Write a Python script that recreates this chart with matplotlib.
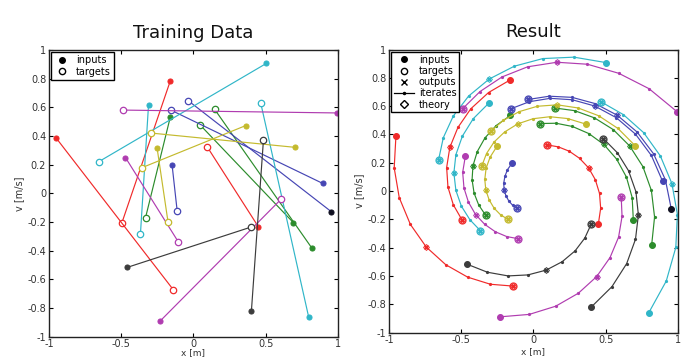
'''
training pairs and learned spiral iterates
two panels: training data and result
'''
import matplotlib.pyplot as plt
from matplotlib.lines import Line2D

# DATA -------------------------------------------------------------
inputs_x = [-0.160, -0.952, 0.449, -0.160, 0.818, 0.691, -0.148, 0.954, 0.893, 0.505,
            -0.311, 0.797, 0.993, -0.471, -0.229, 0.362, 0.703, -0.252, 0.401, -0.460]
inputs_v = [0.786, 0.388, -0.233, 0.534, -0.380, -0.204, 0.197, -0.128, 0.070, 0.907,
            0.619, -0.862, 0.561, 0.250, -0.889, 0.473, 0.321, 0.317, -0.819, -0.517]
targets_x = [-0.495, -0.140, 0.094, -0.332, 0.146, 0.046, -0.113, -0.037, -0.157, -0.657,
             -0.367, 0.465, -0.491, -0.106, 0.607, -0.357, -0.297, -0.176, 0.484, 0.399]
targets_v = [-0.204, -0.672, 0.326, -0.170, 0.587, 0.477, -0.122, 0.647, 0.581, 0.220,
             -0.281, 0.632, 0.581, -0.337, -0.040, 0.179, 0.421, -0.201, 0.370, -0.235]

# intermediate iterates (7 per trajectory, between input and target)
iterates_x = [
    [-0.311, -0.434, -0.523, -0.579, -0.601, -0.592, -0.555],
    [-0.964, -0.929, -0.852, -0.742, -0.607, -0.455, -0.298],
    [0.465, 0.457, 0.428, 0.381, 0.319, 0.248, 0.172],
    [-0.259, -0.336, -0.389, -0.419, -0.425, -0.411, -0.379],
    [0.838, 0.816, 0.757, 0.666, 0.552, 0.422, 0.284],
    [0.683, 0.643, 0.575, 0.487, 0.383, 0.270, 0.156],
    [-0.180, -0.198, -0.206, -0.203, -0.191, -0.171, -0.145],
    [0.913, 0.831, 0.717, 0.579, 0.426, 0.267, 0.110],
    [0.816, 0.706, 0.572, 0.423, 0.268, 0.115, -0.029],
    [0.280, 0.065, -0.133, -0.307, -0.449, -0.555, -0.624],
    [-0.417, -0.492, -0.537, -0.551, -0.537, -0.499, -0.440],
    [0.919, 0.985, 0.996, 0.958, 0.878, 0.763, 0.622],
    [0.800, 0.590, 0.373, 0.162, -0.040, -0.218, -0.370],
    [-0.490, -0.481, -0.450, -0.401, -0.337, -0.264, -0.185],
    [-0.029, 0.154, 0.311, 0.437, 0.530, 0.589, 0.613],
    [0.237, 0.114, -0.003, -0.110, -0.200, -0.273, -0.325],
    [0.585, 0.451, 0.309, 0.165, 0.027, -0.099, -0.208],
    [-0.300, -0.328, -0.337, -0.330, -0.307, -0.273, -0.228],
    [0.543, 0.645, 0.706, 0.726, 0.709, 0.658, 0.581],
    [-0.319, -0.176, -0.039, 0.088, 0.198, 0.288, 0.355],
]
iterates_v = [
    [0.696, 0.581, 0.449, 0.308, 0.166, 0.028, -0.097],
    [0.163, -0.047, -0.236, -0.396, -0.521, -0.609, -0.659],
    [-0.122, -0.017, 0.080, 0.164, 0.231, 0.281, 0.312],
    [0.462, 0.375, 0.279, 0.178, 0.079, -0.015, -0.099],
    [-0.184, 0.004, 0.173, 0.318, 0.434, 0.517, 0.568],
    [-0.046, 0.099, 0.226, 0.329, 0.406, 0.456, 0.479],
    [0.151, 0.103, 0.055, 0.009, -0.033, -0.070, -0.100],
    [0.079, 0.263, 0.417, 0.536, 0.618, 0.662, 0.670],
    [0.251, 0.402, 0.519, 0.601, 0.645, 0.655, 0.631],
    [0.946, 0.936, 0.882, 0.791, 0.671, 0.530, 0.377],
    [0.511, 0.388, 0.257, 0.128, 0.004, -0.107, -0.203],
    [-0.636, -0.399, -0.166, 0.053, 0.248, 0.412, 0.540],
    [0.723, 0.832, 0.896, 0.910, 0.878, 0.806, 0.703],
    [0.132, 0.021, -0.079, -0.166, -0.236, -0.288, -0.322],
    [-0.872, -0.814, -0.722, -0.605, -0.470, -0.326, -0.180],
    [0.512, 0.525, 0.511, 0.474, 0.417, 0.346, 0.265],
    [0.442, 0.532, 0.587, 0.609, 0.599, 0.561, 0.500],
    [0.240, 0.161, 0.082, 0.007, -0.062, -0.121, -0.168],
    [-0.676, -0.513, -0.341, -0.169, -0.005, 0.143, 0.270],
    [-0.574, -0.600, -0.593, -0.559, -0.500, -0.423, -0.333],
]
mid_step = 3   # index of the half-way iterate (theory / output check)

# STYLE ------------------------------------------------------------
R, G, B, C, M, Y, K = '#f02a2a', '#2c8c2c', '#4646b4', '#30b6c8', '#b03cb0', '#c4ba2e', '#3c3c3c'
line_colors = [R, R, R, G, G, G, B, B, B, C, C, C, M, M, M, Y, Y, Y, K, K]
input_colors = list(line_colors)
input_colors[7] = '#101020'   # this input shows up as a dark dot

fig = plt.figure(figsize=(6.97, 3.57), dpi=100)
ax1 = fig.add_axes([0.0703, 0.0569, 0.4146, 0.803])
ax2 = fig.add_axes([0.5581, 0.0686, 0.4146, 0.7927])


def style_axes(ax, title, xpad):
    ax.set_xlim(-1, 1)
    ax.set_ylim(-1, 1)
    ax.set_xticks([-1, -0.5, 0, 0.5, 1])
    ax.set_xticklabels(['-1', '-0.5', '0', '0.5', '1'])
    yt = [-1, -0.8, -0.6, -0.4, -0.2, 0, 0.2, 0.4, 0.6, 0.8, 1]
    ax.set_yticks(yt)
    ax.set_yticklabels(['-1', '-0.8', '-0.6', '-0.4', '-0.2', '0', '0.2', '0.4', '0.6', '0.8', '1'])
    ax.tick_params(direction='in', top=True, right=True, length=3, width=0.8,
                   labelsize=7, labelcolor='#333333', pad=2)
    for s in ax.spines.values():
        s.set_linewidth(1.0)
        s.set_color('#222222')
    ax.set_ylabel('v [m/s]', fontsize=7, color='#333333', labelpad=2)
    ax.set_xlabel('x [m]', fontsize=6.5, color='#333333', labelpad=xpad)
    ax.set_title(title, fontsize=13, pad=9, color='#111111')


# LEFT: training pairs ---------------------------------------------
for i in range(len(inputs_x)):
    c = line_colors[i]
    ax1.plot([inputs_x[i], targets_x[i]], [inputs_v[i], targets_v[i]], '-', color=c, lw=0.85)
    ax1.plot(inputs_x[i], inputs_v[i], 'o', color=input_colors[i], ms=3.6, mew=0.8)
    ax1.plot(targets_x[i], targets_v[i], 'o', mfc='white', mec=c, ms=4.6, mew=0.9)
style_axes(ax1, 'Training Data', -1)

h1 = [Line2D([], [], ls='none', marker='o', color='k', ms=4),
      Line2D([], [], ls='none', marker='o', mfc='none', mec='k', ms=4.5)]
lg1 = ax1.legend(h1, ['inputs', 'targets'], loc='upper left', fontsize=7,
                 fancybox=False, edgecolor='k', framealpha=1, borderpad=0.3,
                 handlelength=1.6, handletextpad=0.6, labelspacing=0.15,
                 borderaxespad=0.25)
lg1.get_frame().set_linewidth(1.0)

# RIGHT: iterated result -------------------------------------------
for i in range(len(inputs_x)):
    c = line_colors[i]
    px = [inputs_x[i]] + iterates_x[i] + [targets_x[i]]
    pv = [inputs_v[i]] + iterates_v[i] + [targets_v[i]]
    ax2.plot(px, pv, '.-', color=c, lw=0.85, ms=2.6)
    ax2.plot(inputs_x[i], inputs_v[i], 'o', color=input_colors[i], ms=4.2, mew=0.8)
    ax2.plot(targets_x[i], targets_v[i], 'o', mfc='none', mec=c, ms=5, mew=0.9)
    chk_x = [iterates_x[i][mid_step], targets_x[i]]
    chk_v = [iterates_v[i][mid_step], targets_v[i]]
    ax2.plot(chk_x, chk_v, 'x', color=c, ms=3.0, mew=0.8, ls='none')
    ax2.plot(chk_x, chk_v, 'D', mfc='none', mec=c, ms=3.0, mew=0.7, ls='none')
style_axes(ax2, 'Result', 1)

h2 = [Line2D([], [], ls='none', marker='o', color='k', ms=4),
      Line2D([], [], ls='none', marker='o', mfc='none', mec='k', ms=4.5),
      Line2D([], [], ls='none', marker='x', color='k', ms=4),
      Line2D([], [], ls='-', marker='.', color='k', ms=3, lw=0.9),
      Line2D([], [], ls='none', marker='D', mfc='none', mec='k', ms=3.8)]
lg2 = ax2.legend(h2, ['inputs', 'targets', 'outputs', 'iterates', 'theory'],
                 loc='upper left', fontsize=7, fancybox=False, edgecolor='k',
                 framealpha=1, borderpad=0.3, handlelength=2.0, handletextpad=0.5,
                 labelspacing=0.12, borderaxespad=0.25)
lg2.get_frame().set_linewidth(1.0)

plt.savefig('out.png', dpi=100)
